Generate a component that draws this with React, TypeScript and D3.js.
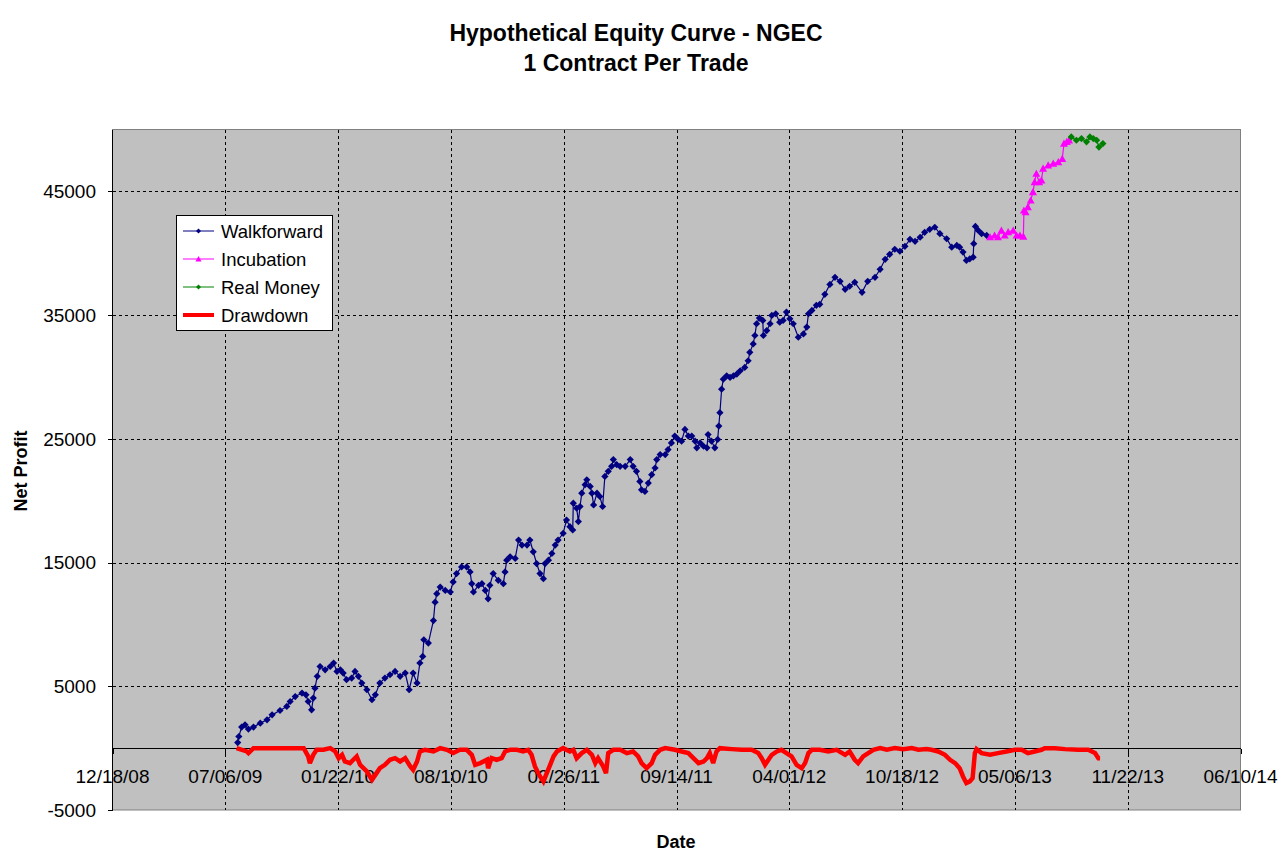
import React from 'react';
import * as d3 from 'd3';

// Day offsets from 12/18/08 and net profit values
const BASE = Date.UTC(2008, 11, 18);

const walkforward: [number, number][] = [
[222,450],[224,940],[229,1700],[235,1885],[241,1540],[250,1700],[262,2020],[274,2290],[283,2690],[297,3040],[309,3370],[315,3770],[324,4170],[336,4450],[343,4310],[347,3770],[353,3100],[356,4050],[359,4850],[363,5800],[368,6600],[377,6330],[386,6600],[392,6880],[398,6200],[404,6330],[409,6070],[415,5530],[424,5660],[430,6200],[436,5800],[442,5260],[451,4720],[460,3910],[466,4310],[474,5260],[483,5660],[492,5930],[501,6200],[510,5800],[519,6070],[526,4720],[533,6070],[540,5260],[545,6880],[550,7410],[552,8760],[560,8490],[569,10310],[572,11800],[575,12480],[581,13020],[590,12750],[599,12620],[604,13430],[610,14110],[619,14650],[628,14650],[634,14240],[637,13290],[640,12620],[649,13160],[655,13290],[661,12750],[666,12070],[669,13160],[675,14110],[684,13560],[693,13290],[696,14240],[699,15190],[705,15460],[714,15330],[720,16820],[726,16410],[735,16410],[740,16820],[746,15870],[752,14920],[758,14110],[764,13700],[767,14920],[773,15190],[779,15730],[785,16410],[790,16820],[799,17360],[805,18440],[811,17900],[816,17630],[817,19800],[823,19390],[826,18310],[829,19530],[832,20610],[838,21290],[841,21690],[847,21150],[850,20610],[853,19660],[859,20610],[864,20340],[869,19530],[873,21960],[879,22370],[885,22780],[888,23320],[894,22910],[900,22780],[909,22780],[918,23320],[923,22780],[929,22370],[935,21560],[938,20880],[944,20750],[950,21420],[956,22100],[962,22640],[965,23320],[971,23730],[980,23730],[985,24130],[991,24670],[997,25220],[1003,24950],[1009,24810],[1015,25760],[1021,25220],[1027,25220],[1033,24810],[1036,24270],[1042,24670],[1048,24400],[1054,24270],[1056,25350],[1062,24810],[1068,24270],[1073,24950],[1075,26030],[1077,27110],[1080,29010],[1083,29820],[1089,30090],[1095,29960],[1101,30090],[1107,30230],[1113,30500],[1121,30770],[1127,31310],[1130,31990],[1136,32670],[1139,33350],[1142,34300],[1147,34760],[1153,34570],[1154,33350],[1160,33750],[1166,34300],[1169,34970],[1176,35110],[1183,34430],[1189,34570],[1195,35240],[1201,34700],[1207,34300],[1216,33210],[1225,33480],[1231,34030],[1234,35110],[1240,35380],[1248,35790],[1254,35870],[1263,36680],[1272,37480],[1281,38050],[1290,37730],[1299,37080],[1307,37330],[1316,37650],[1329,36840],[1339,37730],[1352,38050],[1361,38700],[1370,39510],[1378,39910],[1387,40320],[1396,40160],[1405,40560],[1414,41120],[1423,40960],[1432,41290],[1440,41690],[1449,41930],[1458,42100],[1467,41580],[1479,41170],[1488,40490],[1497,40630],[1502,40490],[1508,40090],[1514,39420],[1520,39550],[1526,39680],[1527,40770],[1530,42170],[1535,41840],[1541,41580],[1550,41440]
];

const incubation: [number, number][] = [
[1556,41300],[1564,41440],[1570,41300],[1576,41840],[1582,41440],[1588,41710],[1597,41840],[1603,41440],[1609,41440],[1615,41350],[1616,43460],[1619,43330],[1623,43730],[1628,44270],[1632,44940],[1635,45750],[1638,46430],[1643,45750],[1647,45890],[1650,46840],[1659,47110],[1668,47250],[1677,47370],[1684,47640],[1687,48860],[1692,49000],[1696,49130]
];

const realMoney: [number, number][] = [
[1700,49400],[1709,49130],[1718,49270],[1727,49000],[1733,49400],[1739,49270],[1745,49130],[1749,48580],[1756,48860]
];

const drawdown: [number, number][] = [
[220,0],[238,-270],[241,-400],[250,0],[339,0],[347,-670],[350,-1210],[356,-540],[362,-135],[374,-135],[386,0],[395,-270],[401,-810],[407,-540],[412,-1080],[421,-1210],[427,-940],[433,-670],[439,-1350],[451,-1890],[460,-2560],[466,-2160],[474,-1620],[483,-1350],[492,-940],[501,-810],[510,-1080],[519,-810],[528,-1480],[533,-1750],[540,-1080],[545,-270],[554,-135],[569,-270],[581,0],[593,-135],[604,-400],[616,-135],[628,-135],[637,-540],[643,-1350],[652,-1210],[664,-940],[666,-1620],[672,-810],[681,-940],[690,-810],[696,-270],[705,-135],[717,-135],[728,-270],[737,-135],[743,-540],[749,-1480],[758,-2290],[764,-2700],[770,-2020],[776,-1350],[782,-670],[788,-270],[799,0],[811,-270],[817,-135],[823,-810],[832,-400],[841,-135],[850,-540],[856,-1210],[861,-810],[870,-1480],[875,-2020],[879,-400],[888,-135],[900,-135],[912,-400],[923,-270],[932,-670],[938,-1210],[947,-1620],[956,-1210],[962,-540],[971,-135],[980,0],[997,-135],[1009,-270],[1021,-400],[1030,-810],[1039,-1210],[1048,-1080],[1054,-810],[1059,-400],[1065,-1210],[1071,-270],[1077,0],[1098,-80],[1116,-135],[1133,-135],[1145,-400],[1151,-810],[1157,-1350],[1163,-940],[1169,-540],[1178,-270],[1186,-135],[1195,-400],[1204,-670],[1213,-1350],[1222,-1620],[1228,-1210],[1234,-400],[1240,-135],[1254,-135],[1269,-270],[1284,-135],[1299,-540],[1307,-270],[1316,-940],[1322,-1210],[1331,-670],[1340,-400],[1349,-135],[1361,0],[1373,-135],[1387,0],[1402,-80],[1417,0],[1429,-135],[1443,-80],[1452,-135],[1464,-270],[1476,-540],[1485,-940],[1494,-1210],[1502,-1620],[1508,-2290],[1514,-2830],[1520,-2700],[1525,-2430],[1529,-400],[1532,-80],[1541,-400],[1556,-540],[1570,-400],[1585,-270],[1600,-135],[1612,-135],[1623,-400],[1635,-270],[1647,-135],[1653,0],[1671,0],[1689,-80],[1712,-135],[1730,-135],[1742,-400],[1748,-810],[1751,-810]
];

const xTickDays = [0, 200, 400, 600, 800, 1000, 1200, 1400, 1600, 1800, 2000];
const yTickValues = [-5000, 5000, 15000, 25000, 35000, 45000];
const titleLines = ['Hypothetical Equity Curve - NGEC', '1 Contract Per Trade'];
const legendItems = ['Walkforward', 'Incubation', 'Real Money', 'Drawdown'];

const FONT = '"Liberation Sans", Arial, Helvetica, sans-serif';

export default function App() {
  const left = 112.5, right = 1240.5, top = 129.5, bottom = 810;
  const toDate = (d: number) => d3.utcDay.offset(new Date(BASE), d);
  const x = d3.scaleUtc().domain([toDate(0), toDate(2000)]).range([left, right]);
  const y = d3.scaleLinear().domain([-5000, 50000]).range([bottom, top]);
  const fmt = d3.utcFormat('%m/%d/%y');
  const line = d3.line<[number, number]>().x(d => x(toDate(d[0]))).y(d => y(d[1]));
  const px = (v: number) => Math.round(v) + 0.5;

  const diamond = (s: number) => `M0,${-s}L${s},0L0,${s}L${-s},0Z`;
  const triangle = (s: number) => `M0,${-s}L${s},${s * 0.8}L${-s},${s * 0.8}Z`;

  const legendX = 176.5, legendY = 215.5, legendW = 156, legendH = 115;
  const legendColors = ['#000080', '#FF00FF', '#008000', '#FF0000'];

  return (
    <svg width={1282} height={857} style={{ position: 'absolute', left: 0, top: 0, background: '#fff' }} fontFamily={FONT}>
      <rect x={0} y={0} width={1282} height={857} fill="#fff" />
      {/* title */}
      {titleLines.map((t, i) => (
        <text key={t} x={636} y={41 + i * 30} textAnchor="middle" fontSize={23} fontWeight="bold" fill="#000">{t}</text>
      ))}
      {/* plot area */}
      <rect x={left} y={top} width={right - left} height={bottom - top} fill="#C0C0C0" stroke="#808080" strokeWidth={1} />
      {/* grid */}
      {xTickDays.slice(1, -1).map(d => (
        <line key={'gx' + d} x1={px(x(toDate(d)))} x2={px(x(toDate(d)))} y1={top} y2={bottom} stroke="#000" strokeWidth={1} strokeDasharray="3,3" shapeRendering="crispEdges" />
      ))}
      {yTickValues.slice(1).map(v => (
        <line key={'gy' + v} x1={left} x2={right} y1={px(y(v))} y2={px(y(v))} stroke="#000" strokeWidth={1} strokeDasharray="3,3" shapeRendering="crispEdges" />
      ))}
      {/* y axis */}
      <line x1={left} x2={left} y1={top} y2={bottom} stroke="#000" strokeWidth={1} shapeRendering="crispEdges" />
      {yTickValues.map(v => (
        <g key={'yt' + v}>
          <line x1={left - 5} x2={left} y1={px(y(v))} y2={px(y(v))} stroke="#000" shapeRendering="crispEdges" />
          <text x={96} y={y(v)} dy="0.36em" textAnchor="end" fontSize={19} fill="#000">{v}</text>
        </g>
      ))}
      {/* x axis at zero */}
      <line x1={left} x2={right} y1={px(y(0))} y2={px(y(0))} stroke="#000" strokeWidth={1} shapeRendering="crispEdges" />
      {xTickDays.map(d => (
        <g key={'xt' + d}>
          <line x1={px(x(toDate(d)))} x2={px(x(toDate(d)))} y1={px(y(0))} y2={px(y(0)) + 5} stroke="#000" shapeRendering="crispEdges" />
          <text x={x(toDate(d))} y={783} textAnchor="middle" fontSize={19} fill="#000">{fmt(toDate(d))}</text>
        </g>
      ))}
      {/* drawdown */}
      <path d={line(drawdown) || ''} fill="none" stroke="#FF0000" strokeWidth={4.5} strokeLinejoin="miter" strokeMiterlimit={3} />
      {/* walkforward */}
      <path d={line(walkforward) || ''} fill="none" stroke="#000080" strokeWidth={1.2} />
      {walkforward.map((d, i) => (
        <path key={'w' + i} d={diamond(3.6)} transform={`translate(${x(toDate(d[0]))},${y(d[1])})`} fill="#000080" />
      ))}
      {/* incubation */}
      <path d={line(incubation) || ''} fill="none" stroke="#FF00FF" strokeWidth={1.2} />
      {incubation.map((d, i) => (
        <path key={'i' + i} d={triangle(4)} transform={`translate(${x(toDate(d[0]))},${y(d[1])})`} fill="#FF00FF" />
      ))}
      {/* real money */}
      <path d={line(realMoney) || ''} fill="none" stroke="#008000" strokeWidth={1.2} />
      {realMoney.map((d, i) => (
        <path key={'r' + i} d={diamond(3.6)} transform={`translate(${x(toDate(d[0]))},${y(d[1])})`} fill="#008000" />
      ))}
      {/* legend */}
      <rect x={legendX} y={legendY} width={legendW} height={legendH} fill="#fff" stroke="#000" strokeWidth={1} />
      {legendItems.map((name, i) => {
        const cy = 231 + i * 28;
        const c = legendColors[i];
        return (
          <g key={name}>
            <line x1={183} x2={214} y1={cy} y2={cy} stroke={c} strokeWidth={i === 3 ? 4 : 1} />
            {i === 0 || i === 2 ? <path d={diamond(2.5)} transform={`translate(198.5,${cy})`} fill={c} /> : null}
            {i === 1 ? <path d={triangle(3)} transform={`translate(198.5,${cy})`} fill={c} /> : null}
            <text x={221} y={cy} dy="0.36em" fontSize={18.5} fill="#000">{name}</text>
          </g>
        );
      })}
      {/* axis titles */}
      <text transform="translate(27,471) rotate(-90)" textAnchor="middle" fontSize={18} fontWeight="bold" fill="#000">Net Profit</text>
      <text x={676} y={848} textAnchor="middle" fontSize={18} fontWeight="bold" fill="#000">Date</text>
    </svg>
  );
}
